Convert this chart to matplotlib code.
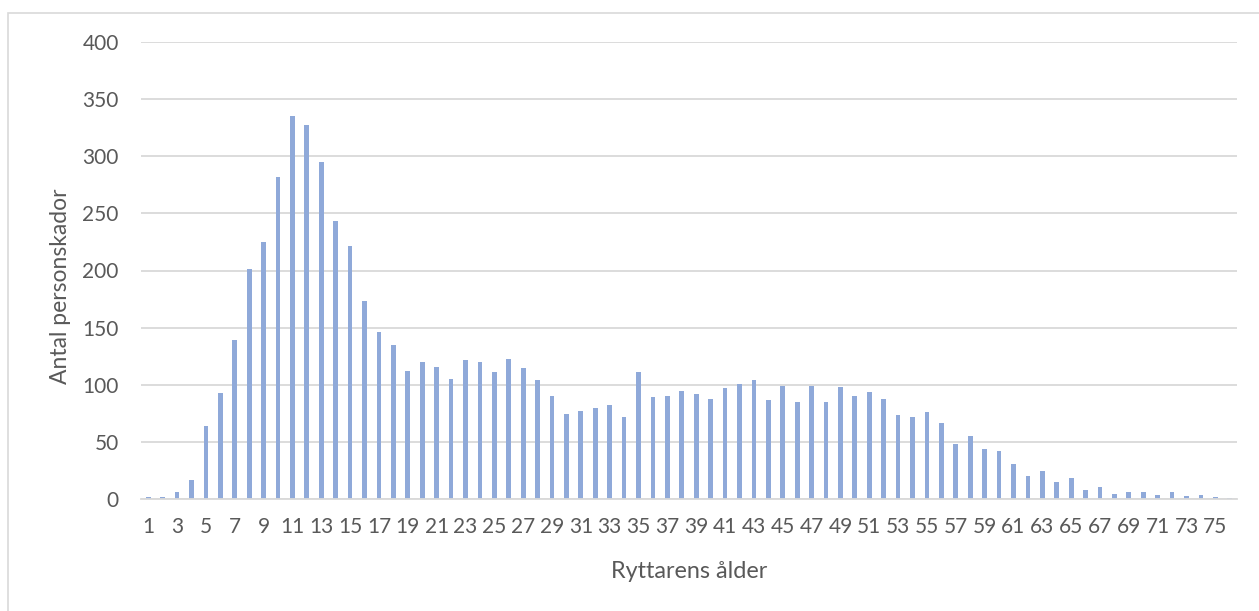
import matplotlib
matplotlib.use("Agg")
import matplotlib.pyplot as plt
from matplotlib.patches import Rectangle

# Injuries per rider age
ages = list(range(1, 77))
injuries = [
    2, 2, 6, 17, 64, 93, 139, 201, 225, 282,
    335, 327, 295, 243, 221, 173, 146, 135, 112, 120,
    116, 105, 122, 120, 111, 123, 115, 104, 90, 75,
    77, 80, 82, 72, 111, 89, 90, 95, 92, 88,
    97, 101, 104, 87, 99, 85, 99, 85, 98, 90,
    94, 88, 74, 72, 76, 67, 48, 55, 44, 42,
    31, 20, 25, 15, 19, 8, 11, 5, 6, 6,
    4, 6, 3, 4, 2, 1,
]
y_ticks = [0, 50, 100, 150, 200, 250, 300, 350, 400]
x_title = "Ryttarens ålder"
y_title = "Antal personskador"

plt.rcParams["font.family"] = ["Lato", "DejaVu Sans"]
text_color = "#595959"
grid_color = "#D9D9D9"
bar_color = "#8FA9D9"

W, H, DPI = 1259, 611, 100
fig = plt.figure(figsize=(W / DPI, H / DPI), dpi=DPI)
fig.patch.set_facecolor("white")

# chart frame
fig.patches.append(Rectangle((8 / W, -0.1), 1.2, 1 - 13 / H + 0.1,
                             transform=fig.transFigure, fill=False,
                             edgecolor=grid_color, linewidth=1.2))

left, right = 141 / W, 1237 / W
bottom, top = 1 - 499.3 / H, 1 - 41.7 / H
ax = fig.add_axes([left, bottom, right - left, top - bottom])

positions = list(range(len(ages)))
ax.bar(positions, injuries, width=0.33, color=bar_color, zorder=3)

ax.set_xlim(-0.5, len(ages) - 0.5)
ax.set_ylim(0, 400)
ax.set_yticks(y_ticks)
ax.set_yticklabels([str(v) for v in y_ticks])
tick_pos = [i for i, a in enumerate(ages) if a % 2 == 1]
ax.set_xticks(tick_pos)
ax.set_xticklabels([str(ages[i]) for i in tick_pos])

ax.grid(axis="y", color=grid_color, linewidth=1.3, zorder=0)
for s in ["top", "right", "left"]:
    ax.spines[s].set_visible(False)
ax.spines["bottom"].set_color(grid_color)
ax.spines["bottom"].set_linewidth(1.3)
ax.spines["bottom"].set_zorder(4)

ax.tick_params(axis="x", length=0, pad=13, labelsize=15, labelcolor=text_color)
ax.tick_params(axis="y", length=0, pad=16, labelsize=15, labelcolor=text_color)

ax.set_xlabel(x_title, fontsize=16.8, color=text_color)
ax.set_ylabel(y_title, fontsize=16.5, color=text_color)
ax.xaxis.set_label_coords(0.5, -0.135)
ax.yaxis.set_label_coords(-0.064, 0.465)

fig.savefig("out.png", dpi=DPI, facecolor="white")
